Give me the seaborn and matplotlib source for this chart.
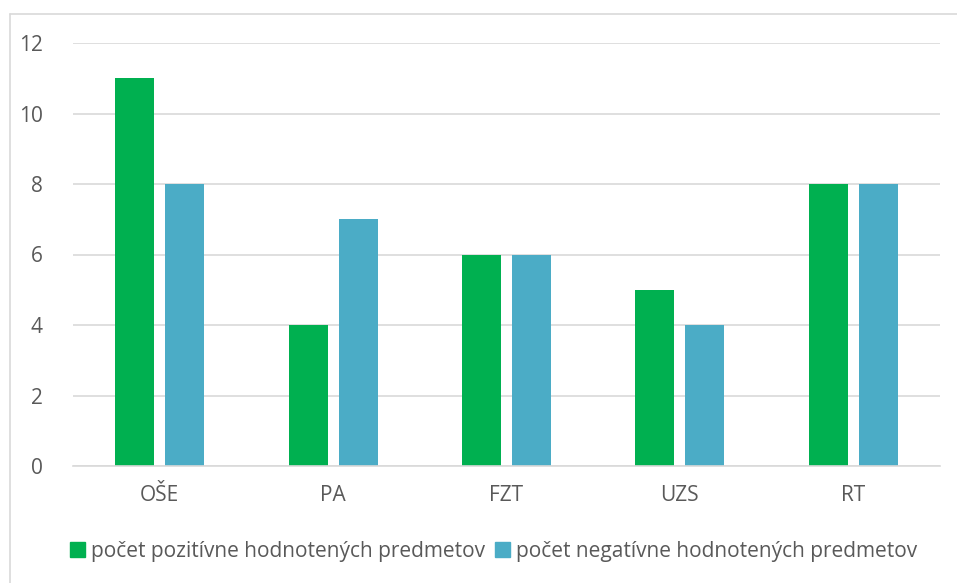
import matplotlib
matplotlib.use("Agg")
import pandas as pd
import matplotlib.pyplot as plt
import seaborn as sns
from matplotlib.lines import Line2D

sns.set_style("white")
plt.rcParams["font.family"] = ["Open Sans", "DejaVu Sans"]

# data
categories = ["OŠE", "PA", "FZT", "UZS", "RT"]
positive = [11, 4, 6, 5, 8]
negative = [8, 7, 6, 4, 8]
series_names = ["počet pozitívne hodnotených predmetov",
                "počet negatívne hodnotených predmetov"]
colors = ["#00B050", "#4BACC6"]

df = pd.DataFrame({
    "kat": categories * 2,
    "hodnota": positive + negative,
    "seria": [series_names[0]] * len(categories) + [series_names[1]] * len(categories),
})

W, H = 957, 583
fig = plt.figure(figsize=(W / 100, H / 100), dpi=100)
ax = fig.add_axes([73 / W, 1 - 466 / H, (940 - 73) / W, (466 - 43) / H])

sns.barplot(data=df, x="kat", y="hodnota", hue="seria", palette=colors,
            width=0.577, gap=0.22, ax=ax, legend=False, saturation=1, linewidth=0)

txt = "#595959"
ax.set_ylim(0, 12)
ax.set_yticks(range(0, 13, 2))
ax.set_xlim(-0.5, len(categories) - 0.5)
ax.grid(axis="y", color="#D9D9D9", linewidth=1.2)
ax.set_axisbelow(True)
for s in ["top", "right", "left"]:
    ax.spines[s].set_visible(False)
ax.spines["bottom"].set_color("#D9D9D9")
ax.spines["bottom"].set_linewidth(1.2)
ax.set_xlabel("")
ax.set_ylabel("")
ax.tick_params(axis="both", length=0, labelsize=15, colors=txt)
ax.tick_params(axis="y", pad=22)
ax.tick_params(axis="x", pad=14)

# outer chart border (Excel style)
fig.add_artist(Line2D([10 / W, 1.0], [1 - 14 / H, 1 - 14 / H], color="#D9D9D9", lw=1.2))
fig.add_artist(Line2D([10 / W, 10 / W], [0.0, 1 - 14 / H], color="#D9D9D9", lw=1.2))

handles = [plt.Rectangle((0, 0), 1, 1, color=c) for c in colors]
leg = fig.legend(handles, series_names, loc="center", bbox_to_anchor=(0.516, 1 - 551 / H),
                 ncol=2, frameon=False, fontsize=15, handlelength=0.7, handleheight=0.7,
                 handletextpad=0.3, columnspacing=0.5)
for t in leg.get_texts():
    t.set_color(txt)

fig.savefig("out.png", dpi=100)
